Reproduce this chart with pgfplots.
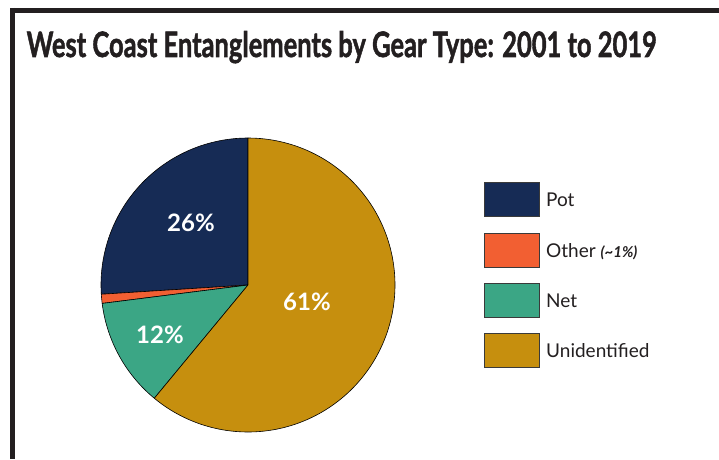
\documentclass[border=0pt]{standalone}
\usepackage{pgfplots}
\pgfplotsset{compat=1.18}
\usepackage{fontspec}
\setmainfont{Lato}
\newfontfamily\titlefont{Lato}[BoldFeatures={FakeBold=1.6}]
\usepackage{graphicx}
\definecolor{frame}{HTML}{231F20}
\definecolor{potc}{HTML}{162B55}
\definecolor{otherc}{HTML}{F25F32}
\definecolor{netc}{HTML}{3BA685}
\definecolor{unidc}{HTML}{C68F0E}
\definecolor{boxline}{HTML}{3A3A3A}
% data (percent)
\def\vPot{26}
\def\vOther{1}
\def\vNet{12}
\def\vUnid{61}
\pgfmathsetmacro\aA{90}
\pgfmathsetmacro\aB{\aA+3.6*\vPot}
\pgfmathsetmacro\aC{\aB+3.6*\vOther}
\pgfmathsetmacro\aD{\aC+3.6*\vNet}
\pgfmathsetmacro\aE{\aD+3.6*\vUnid}
\begin{document}
\begin{tikzpicture}[x=1pt,y=1pt]
\useasboundingbox (0,0) rectangle (719,459);
\fill[white] (0,0) rectangle (719,459);
% frame
\draw[line width=5pt, frame] (10,448.5) -- (719,448.5);
\draw[line width=5pt, frame] (12.5,451) -- (12.5,0);
% title
\node[anchor=base west, inner sep=0pt, text=frame] at (26.5,402)
  {\resizebox{630pt}{26pt}{\titlefont\bfseries West Coast Entanglements by Gear Type: 2001 to 2019}};
\begin{axis}[at={(248pt,174pt)}, anchor=center, x=147pt, y=147pt,
  xmin=-1, xmax=1, ymin=-1, ymax=1, hide axis, clip=false]
\addplot[fill=potc, draw=black, line width=0.6pt, line join=round, domain=\aA:\aB, samples=60, variable=\t] ({cos(\t)},{sin(\t)}) -- (axis cs:0,0) -- cycle;
\addplot[fill=otherc, draw=black, line width=0.6pt, line join=round, domain=\aB:\aC, samples=5, variable=\t] ({cos(\t)},{sin(\t)}) -- (axis cs:0,0) -- cycle;
\addplot[fill=netc, draw=black, line width=0.6pt, line join=round, domain=\aC:\aD, samples=40, variable=\t] ({cos(\t)},{sin(\t)}) -- (axis cs:0,0) -- cycle;
\addplot[fill=unidc, draw=black, line width=0.6pt, line join=round, domain=\aD:\aE, samples=140, variable=\t] ({cos(\t)},{sin(\t)}) -- (axis cs:0,0) -- cycle;
\node[text=white, font=\fontsize{24}{28}\selectfont\bfseries] at (axis cs:-0.388,0.422) {26\%};
\node[text=white, font=\fontsize{24}{28}\selectfont\bfseries] at (axis cs:0.401,-0.116) {61\%};
\node[text=white, font=\fontsize{24}{28}\selectfont\bfseries] at (axis cs:-0.599,-0.340) {12\%};
\end{axis}
% legend
\draw[boxline, line width=0.8pt, fill=potc] (484,243) rectangle (539,277);
\draw[boxline, line width=0.8pt, fill=otherc] (484,192) rectangle (539,226);
\draw[boxline, line width=0.8pt, fill=netc] (484,142) rectangle (539,176);
\draw[boxline, line width=0.8pt, fill=unidc] (484,92) rectangle (539,126);
\node[anchor=base west, inner sep=0pt, font=\fontsize{19}{22}\selectfont, text=frame] at (546,252.5) {Pot};
\node[anchor=base west, inner sep=0pt, font=\fontsize{19}{22}\selectfont, text=frame] at (546,201.7) {Other {\fontsize{15}{17}\selectfont\bfseries\itshape (\textasciitilde1\%)}};
\node[anchor=base west, inner sep=0pt, font=\fontsize{19}{22}\selectfont, text=frame] at (546,151.7) {Net};
\node[anchor=base west, inner sep=0pt, font=\fontsize{19}{22}\selectfont, text=frame] at (546,101.7) {Unidentified};
\end{tikzpicture}
\end{document}
